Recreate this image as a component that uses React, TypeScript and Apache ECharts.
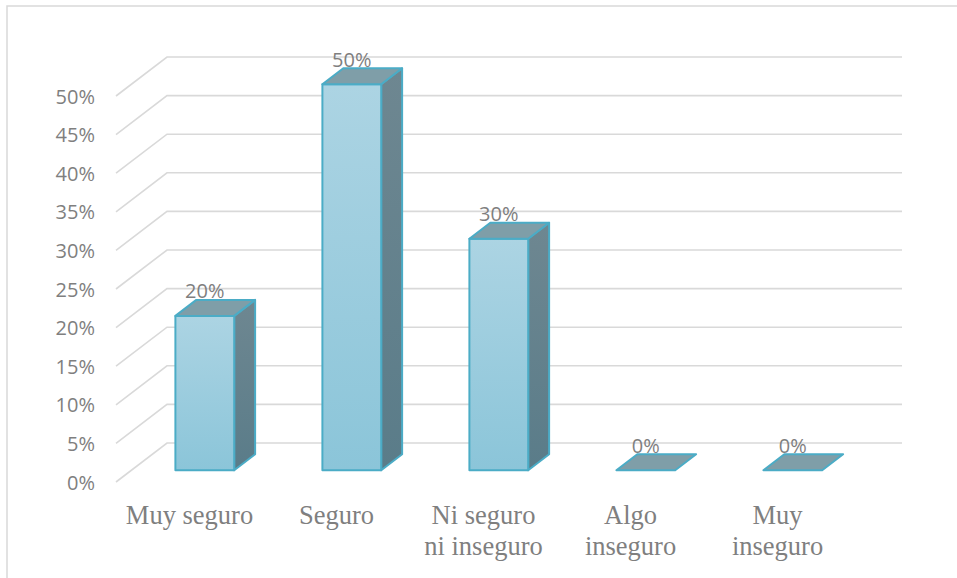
import React, { useEffect, useRef } from "react";
import * as echarts from "echarts";

const categories = ["Muy seguro", "Seguro", "Ni seguro\nni inseguro", "Algo\ninseguro", "Muy\ninseguro"];
const values = [0.2, 0.5, 0.3, 0, 0];
const yTicks = [0, 0.05, 0.1, 0.15, 0.2, 0.25, 0.3, 0.35, 0.4, 0.45, 0.5];

const DEPTH_X = 51;
const DEPTH_Y = 39;
const BAR_FRONT = 0.3;
const BAR_DEPTH = 0.41;
const BAR_WIDTH_RATIO = 0.4;

const pct = (v: number) => Math.round(v * 100) + "%";

export default function App() {
  const ref = useRef<HTMLDivElement>(null);
  useEffect(() => {
    if (!ref.current) return;
    const chart = echarts.init(ref.current, null, { renderer: "svg" });
    const option: any = {
      animation: false,
      backgroundColor: "#ffffff",
      graphic: [
        {
          type: "rect",
          shape: { x: 7, y: 6, width: 2000, height: 2000 },
          style: { fill: "none", stroke: "#d9d9d9", lineWidth: 1.5 },
          z: -10,
        },
      ],
      grid: { left: 116, right: 106, top: 96, bottom: 96 },
      xAxis: {
        type: "category",
        data: categories,
        axisLine: { show: false },
        axisTick: { show: false },
        splitLine: { show: false },
        axisLabel: {
          interval: 0,
          margin: 17,
          color: "#7f7f7f",
          fontFamily: "Liberation Serif",
          fontSize: 26.5,
          lineHeight: 31,
        },
      },
      yAxis: {
        type: "value",
        min: 0,
        max: 0.5,
        interval: 0.05,
        axisLine: { show: false },
        axisTick: { show: false },
        splitLine: { show: false },
        axisLabel: {
          margin: 21,
          color: "#7f7f7f",
          fontFamily: "Open Sans",
          fontSize: 20,
          formatter: (v: number) => pct(v),
        },
      },
      series: [
        {
          type: "custom",
          clip: false,
          silent: true,
          z: 1,
          data: yTicks.map((t) => [0, t]),
          renderItem: (params: any, api: any) => {
            const cs = params.coordSys;
            const y = api.coord([0, api.value(1)])[1];
            return {
              type: "polyline",
              shape: {
                points: [
                  [cs.x, y],
                  [cs.x + DEPTH_X, y - DEPTH_Y],
                  [cs.x + cs.width + DEPTH_X, y - DEPTH_Y],
                ],
              },
              style: { stroke: "#d9d9d9", lineWidth: 1.6, fill: "none" },
            };
          },
        },
        {
          type: "custom",
          clip: false,
          silent: true,
          z: 5,
          data: values.map((v, i) => [i, v]),
          renderItem: (params: any, api: any) => {
            const i = api.value(0);
            const v = api.value(1);
            const top0 = api.coord([i, v]);
            const base0 = api.coord([i, 0]);
            const band = api.size([1, 0])[0];
            const w = band * BAR_WIDTH_RATIO;
            const ox = DEPTH_X * BAR_FRONT;
            const oy = DEPTH_Y * BAR_FRONT;
            const dx = DEPTH_X * BAR_DEPTH;
            const dy = DEPTH_Y * BAR_DEPTH;
            const x0 = top0[0] - w / 2 + ox;
            const top = top0[1] - oy;
            const bottom = base0[1] - oy;
            const stroke = "#4bacc6";
            const children: any[] = [];
            if (bottom - top > 0.5) {
              children.push({
                type: "polygon",
                shape: {
                  points: [
                    [x0 + w, top],
                    [x0 + w + dx, top - dy],
                    [x0 + w + dx, bottom - dy],
                    [x0 + w, bottom],
                  ],
                },
                style: {
                  fill: {
                    type: "linear", x: 0, y: 0, x2: 0, y2: 1,
                    colorStops: [
                      { offset: 0, color: "#6e8791" },
                      { offset: 1, color: "#5a7c89" },
                    ],
                  },
                  stroke, lineWidth: 2, lineJoin: "round",
                },
              });
              children.push({
                type: "rect",
                shape: { x: x0, y: top, width: w, height: bottom - top },
                style: {
                  fill: {
                    type: "linear", x: 0, y: 0, x2: 0, y2: 1,
                    colorStops: [
                      { offset: 0, color: "#acd4e3" },
                      { offset: 1, color: "#8bc5d9" },
                    ],
                  },
                  stroke, lineWidth: 2, lineJoin: "round",
                },
              });
            }
            children.push({
              type: "polygon",
              shape: {
                points: [
                  [x0, top],
                  [x0 + dx, top - dy],
                  [x0 + w + dx, top - dy],
                  [x0 + w, top],
                ],
              },
              style: { fill: "#7f9ea8", stroke, lineWidth: 2, lineJoin: "round" },
            });
            children.push({
              type: "text",
              style: {
                x: x0 + w / 2,
                y: top - 25,
                text: pct(v),
                align: "center",
                verticalAlign: "middle",
                fill: "#7f7f7f",
                fontFamily: "Open Sans",
                fontSize: 20,
              },
            });
            return { type: "group", children };
          },
        },
      ],
    };
    chart.setOption(option);
    return () => chart.dispose();
  }, []);
  return (
    <div
      ref={ref}
      style={{ position: "fixed", left: 0, top: 0, width: 957, height: 578 }}
    />
  );
}
